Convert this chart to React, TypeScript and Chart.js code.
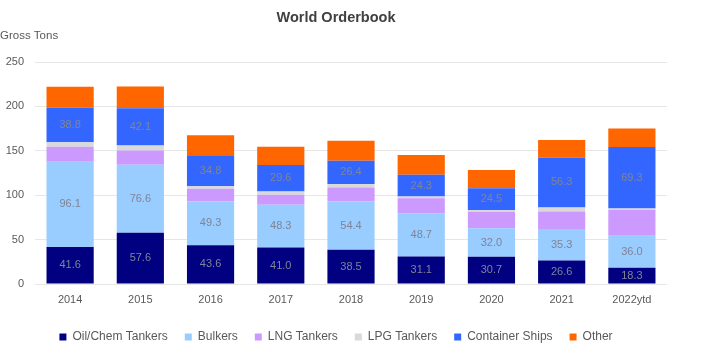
import React, { useEffect, useRef } from "react";
import { Chart, registerables } from "chart.js";

Chart.register(...registerables);

const categories = ["2014", "2015", "2016", "2017", "2018", "2019", "2020", "2021", "2022ytd"];
const oilChemTankers = [41.6, 57.6, 43.6, 41.0, 38.5, 31.1, 30.7, 26.6, 18.3];
const bulkers = [96.1, 76.6, 49.3, 48.3, 54.4, 48.7, 32.0, 35.3, 36.0];
const lngTankers = [16.9, 16.1, 14.3, 11.3, 15.8, 16.9, 18.7, 19.8, 28.9];
const lpgTankers = [5.0, 5.6, 3.0, 3.7, 3.8, 1.9, 1.9, 4.5, 1.9];
const containerShips = [38.8, 42.1, 34.8, 29.6, 26.4, 24.3, 24.5, 56.3, 69.3];
const other = [23.6, 24.3, 22.5, 20.6, 22.5, 22.5, 20.6, 19.6, 20.7];

const yMin = 0;
const yMax = 250;
const yStep = 50;

const chartTitle = "World Orderbook";
const yAxisTitle = "Gross Tons";

const FONT = "'Liberation Sans', Arial, sans-serif";

export default function App() {
  const ref = useRef<HTMLCanvasElement | null>(null);

  useEffect(() => {
    if (!ref.current) return;

    const segLabels = {
      id: "segLabels",
      afterDatasetsDraw(chart: any) {
        const ctx = chart.ctx;
        ctx.save();
        ctx.font = `11px ${FONT}`;
        ctx.fillStyle = "#7f8496";
        ctx.textAlign = "center";
        ctx.textBaseline = "middle";
        chart.data.datasets.forEach((ds: any, i: number) => {
          if (!ds.showValue) return;
          const meta = chart.getDatasetMeta(i);
          meta.data.forEach((el: any, j: number) => {
            const v = ds.data[j];
            const y = (el.y + el.base) / 2;
            ctx.fillText(Number(v).toFixed(1), el.x, y);
          });
        });
        ctx.restore();
      },
    };

    const yTitle = {
      id: "yTitle",
      afterDraw(chart: any) {
        const ctx = chart.ctx;
        ctx.save();
        ctx.font = `11.5px ${FONT}`;
        ctx.fillStyle = "#595959";
        ctx.textAlign = "left";
        ctx.textBaseline = "middle";
        ctx.fillText(yAxisTitle, 0, chart.chartArea.top - 26);
        ctx.restore();
      },
    };

    const chart = new Chart(ref.current, {
      type: "bar",
      data: {
        labels: categories,
        datasets: [
          { label: "Oil/Chem Tankers", data: oilChemTankers, backgroundColor: "#000080", showValue: true } as any,
          { label: "Bulkers", data: bulkers, backgroundColor: "#99ccff", showValue: true } as any,
          { label: "LNG Tankers", data: lngTankers, backgroundColor: "#cc99ff" },
          { label: "LPG Tankers", data: lpgTankers, backgroundColor: "#d9d9d9" },
          { label: "Container Ships", data: containerShips, backgroundColor: "#3366ff", showValue: true } as any,
          { label: "Other", data: other, backgroundColor: "#ff6600" },
        ],
      },
      options: {
        animation: false,
        responsive: true,
        maintainAspectRatio: false,
        datasets: { bar: { categoryPercentage: 0.8, barPercentage: 0.84 } },
        layout: { padding: { left: 5, right: 44, top: 0, bottom: -8 } },
        plugins: {
          title: {
            display: true,
            text: chartTitle,
            color: "#404040",
            font: { family: FONT, size: 14.5, weight: "bold" },
            padding: { top: 9, bottom: 35.6 },
          },
          legend: {
            position: "bottom",
            labels: {
              boxWidth: 7,
              boxHeight: 7,
              padding: 17,
              color: "#595959",
              font: { family: FONT, size: 12 },
            },
          },
          tooltip: { enabled: false },
        },
        scales: {
          x: {
            stacked: true,
            grid: { display: false, drawTicks: false, tickLength: 0 },
            border: { display: false },
            ticks: { color: "#595959", font: { family: FONT, size: 11 }, padding: 9 },
            afterFit: (s: any) => {
              s.height = 30;
            },
          },
          y: {
            stacked: true,
            min: yMin,
            max: yMax,
            grid: { color: "#e6e6e6", drawTicks: false },
            border: { display: false },
            ticks: { stepSize: yStep, color: "#595959", font: { family: FONT, size: 11 }, padding: 11 },
            afterFit: (s: any) => {
              s.width = 30;
            },
          },
        },
      },
      plugins: [segLabels, yTitle],
    });

    return () => chart.destroy();
  }, []);

  return (
    <div style={{ position: "absolute", left: 0, top: 0, width: 711, height: 345 }}>
      <canvas ref={ref} />
    </div>
  );
}
